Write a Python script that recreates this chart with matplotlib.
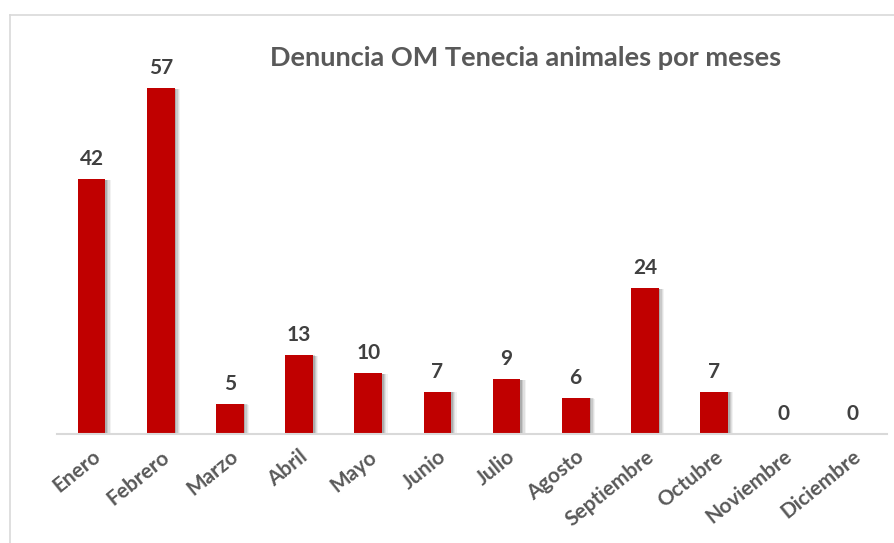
import matplotlib
matplotlib.use("Agg")
import matplotlib.pyplot as plt
from matplotlib.lines import Line2D
import numpy as np

meses = ["Enero", "Febrero", "Marzo", "Abril", "Mayo", "Junio", "Julio",
         "Agosto", "Septiembre", "Octubre", "Noviembre", "Diciembre"]
denuncias = [42, 57, 5, 13, 10, 7, 9, 6, 24, 7, 0, 0]

titulo = "Denuncia OM Tenecia animales por meses"
rojo = "#C00000"
gris = "#595959"

plt.rcParams['font.family'] = ['Lato', 'DejaVu Sans']

W, H = 895, 543
fig = plt.figure(figsize=(W / 100, H / 100), dpi=100)

# marco gris del grafico
fig.add_artist(Line2D([10 / W, 10 / W], [0, 1 - 15 / H], color="#d9d9d9", lw=1.2))
fig.add_artist(Line2D([10 / W, 1], [1 - 15 / H, 1 - 15 / H], color="#d9d9d9", lw=1.2))

ax = fig.add_axes([57 / W, (H - 434) / H, 830 / W, 364 / H])
x = np.arange(len(meses))

# sombra suave detras de las barras
for k, a in enumerate([0.14, 0.10, 0.07, 0.05]):
    off = 0.025 + k * 0.018
    ax.bar(x + off, np.array(denuncias) - off * 2.0, width=0.4, bottom=0,
           color="black", alpha=a, linewidth=0, zorder=1)
ax.bar(x, denuncias, width=0.4, color=rojo, linewidth=0, zorder=2)

for xi, v in zip(x, denuncias):
    ax.text(xi, v + 3.3, str(v), ha="center", va="center", fontsize=15,
            fontweight="bold", color="#404040")

ax.set_xlim(-0.5, len(meses) - 0.5)
ax.set_ylim(0, 60)
ax.set_yticks([])
ax.set_xticks(x)
ax.set_xticklabels(meses, rotation=39, ha="right", rotation_mode="anchor",
                   fontsize=15, fontweight="bold", color=gris)
ax.tick_params(axis="x", length=0, pad=9)
for s in ["top", "right", "left"]:
    ax.spines[s].set_visible(False)
ax.spines["bottom"].set_color("#d9d9d9")
ax.spines["bottom"].set_linewidth(1.5)

fig.text(526 / W, 1 - 58 / H, titulo, ha="center", va="center", fontsize=19.5,
         fontweight="bold", color=gris)

fig.savefig("out.png", dpi=100)
